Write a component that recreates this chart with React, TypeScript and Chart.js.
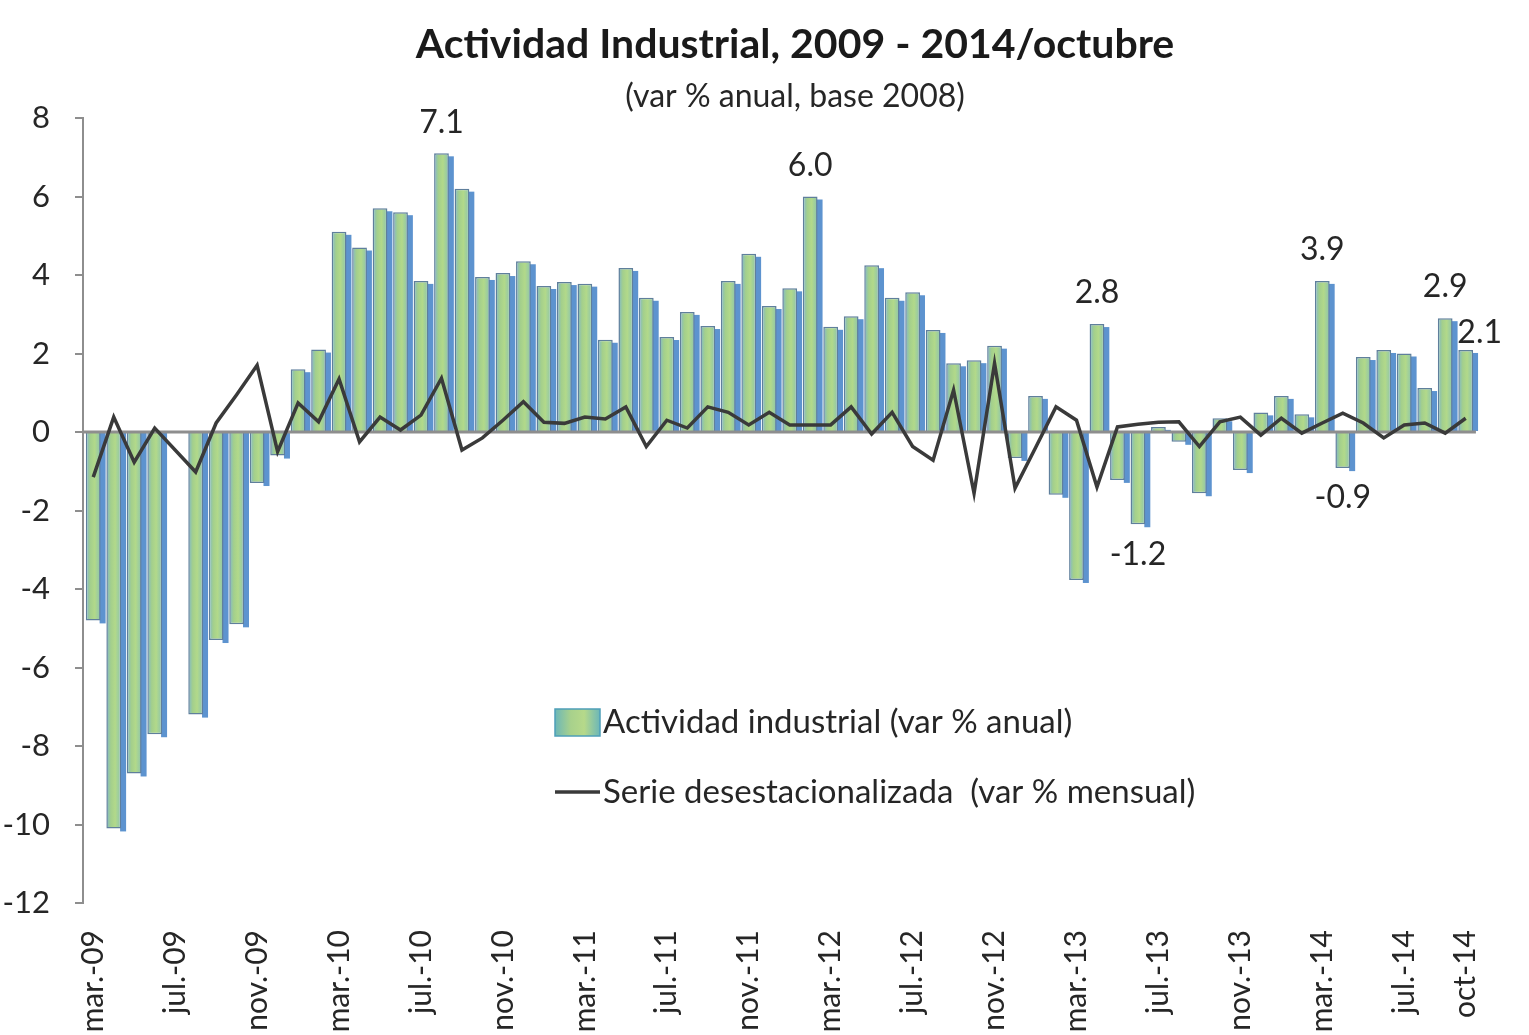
import React, { useEffect, useRef } from "react";
import { Chart, registerables } from "chart.js";

Chart.register(...registerables);

const months = [
  "mar.-09", "abr.-09", "may.-09", "jun.-09", "jul.-09", "ago.-09", "sep.-09", "oct.-09", "nov.-09", "dic.-09",
  "ene.-10", "feb.-10", "mar.-10", "abr.-10", "may.-10", "jun.-10", "jul.-10", "ago.-10", "sep.-10", "oct.-10", "nov.-10", "dic.-10",
  "ene.-11", "feb.-11", "mar.-11", "abr.-11", "may.-11", "jun.-11", "jul.-11", "ago.-11", "sep.-11", "oct.-11", "nov.-11", "dic.-11",
  "ene.-12", "feb.-12", "mar.-12", "abr.-12", "may.-12", "jun.-12", "jul.-12", "ago.-12", "sep.-12", "oct.-12", "nov.-12", "dic.-12",
  "ene.-13", "feb.-13", "mar.-13", "abr.-13", "may.-13", "jun.-13", "jul.-13", "ago.-13", "sep.-13", "oct.-13", "nov.-13", "dic.-13",
  "ene.-14", "feb.-14", "mar.-14", "abr.-14", "may.-14", "jun.-14", "jul.-14", "ago.-14", "sep.-14", "oct-14",
];

const annualVar: (number | null)[] = [
  -4.8, -10.1, -8.7, -7.7, null, -7.2, -5.3, -4.9, -1.3, -0.6,
  1.6, 2.1, 5.1, 4.7, 5.7, 5.6, 3.85, 7.1, 6.2, 3.95, 4.05, 4.35,
  3.72, 3.82, 3.78, 2.35, 4.18, 3.42, 2.42, 3.06, 2.7, 3.85, 4.54, 3.21,
  3.66, 6.0, 2.68, 2.95, 4.25, 3.42, 3.56, 2.6, 1.75, 1.83, 2.2, -0.66,
  0.92, -1.6, -3.77, 2.75, -1.22, -2.35, 0.13, -0.25, -1.56, 0.35, -0.97, 0.5,
  0.92, 0.45, 3.85, -0.92, 1.91, 2.09, 2.0, 1.12, 2.9, 2.09,
];

const monthlyVar: (number | null)[] = [
  -1.15, 0.38, -0.77, 0.1, null, -1.02, 0.23, 0.95, 1.7, -0.5,
  0.74, 0.26, 1.35, -0.25, 0.38, 0.05, 0.43, 1.37, -0.46, -0.15, 0.3, 0.77,
  0.25, 0.22, 0.38, 0.33, 0.64, -0.37, 0.3, 0.1, 0.64, 0.5, 0.18, 0.5,
  0.18, 0.18, 0.18, 0.64, -0.05, 0.5, -0.37, -0.72, 1.07, -1.56, 1.75, -1.43,
  -0.4, 0.64, 0.3, -1.4, 0.13, 0.2, 0.25, 0.26, -0.37, 0.26, 0.38, -0.08,
  0.35, -0.03, 0.23, 0.48, 0.23, -0.15, 0.18, 0.23, -0.03, 0.35,
];

const yTicks = [-12, -10, -8, -6, -4, -2, 0, 2, 4, 6, 8];

const barLabelIndex = [17, 35, 49, 51, 60, 61, 66, 67];
const barLabelText = ["7.1", "6.0", "2.8", "-1.2", "3.9", "-0.9", "2.9", "2.1"];

const titleText = "Actividad Industrial, 2009 - 2014/octubre";
const subtitleText = "(var % anual, base 2008)";
const seriesNames = ["Actividad industrial (var % anual)", "Serie desestacionalizada  (var % mensual)"];

const FONT = "Lato, 'Open Sans', sans-serif";

export default function App() {
  const canvasRef = useRef<HTMLCanvasElement | null>(null);

  useEffect(() => {
    const canvas = canvasRef.current;
    if (!canvas) return;

    const barFill = (ctx: any) => {
      const chart = ctx.chart;
      const meta = chart.getDatasetMeta(0);
      const el: any = meta && meta.data ? meta.data[ctx.dataIndex] : null;
      if (!el || !el.width || !isFinite(el.x)) return "#a9d18e";
      const g = chart.ctx.createLinearGradient(el.x - el.width / 2, 0, el.x + el.width / 2, 0);
      g.addColorStop(0, "#7fb8cc");
      g.addColorStop(0.3, "#a3cf8c");
      g.addColorStop(0.6, "#b2d98a");
      g.addColorStop(1, "#8cc4ae");
      return g;
    };

    const barLayerPlugin = {
      id: "barLayer",
      beforeDatasetDraw(chart: any, args: any) {
        if (args.index !== 0) return;
        const ctx = chart.ctx;
        const meta = chart.getDatasetMeta(0);
        ctx.save();
        ctx.fillStyle = "#5d93cf";
        meta.data.forEach((el: any, i: number) => {
          const v = annualVar[i];
          if (v === null || v === undefined || !el || !isFinite(el.y)) return;
          const left = el.x + el.width / 2 - 1;
          const w = 6;
          const top = Math.min(el.y, el.base) + (v >= 0 ? 3 : 0);
          const bottom = Math.max(el.y, el.base) + (v < 0 ? 3 : 0);
          ctx.fillRect(left, top, w, bottom - top);
        });
        ctx.restore();
      },
      afterDatasetDraw(chart: any, args: any) {
        if (args.index !== 0) return;
        const { ctx, chartArea, scales } = chart;
        const y = scales.y.getPixelForValue(0);
        ctx.save();
        ctx.strokeStyle = "#8e8e8e";
        ctx.lineWidth = 3;
        ctx.beginPath();
        ctx.moveTo(chartArea.left, y);
        ctx.lineTo(chartArea.right, y);
        ctx.stroke();
        ctx.restore();
      },
    };

    const textPlugin = {
      id: "texts",
      afterDraw(chart: any) {
        const { ctx } = chart;
        ctx.save();
        ctx.textAlign = "center";
        ctx.textBaseline = "middle";
        ctx.fillStyle = "#1a1a1a";
        ctx.font = `bold 41px ${FONT}`;
        ctx.fillText(titleText, 795, 45);
        ctx.fillStyle = "#262626";
        ctx.font = `32px ${FONT}`;
        ctx.fillText(subtitleText, 795, 97);

        const meta = chart.getDatasetMeta(0);
        ctx.font = `32px ${FONT}`;
        barLabelIndex.forEach((idx, k) => {
          const el: any = meta.data[idx];
          const v = annualVar[idx] as number;
          if (!el) return;
          let x = el.x;
          let y = v >= 0 ? el.y - 31 : el.y + 30;
          if (k === barLabelIndex.length - 1) {
            x += 14;
            y += 14;
          }
          ctx.fillText(barLabelText[k], x, y);
        });

        const bx = 555, by = 709, bw = 45, bh = 27;
        const g = ctx.createLinearGradient(bx, 0, bx + bw, 0);
        g.addColorStop(0, "#6cb7b8");
        g.addColorStop(0.35, "#a8d18c");
        g.addColorStop(0.65, "#b6d98a");
        g.addColorStop(1, "#6cb7b8");
        ctx.fillStyle = g;
        ctx.fillRect(bx, by, bw, bh);
        ctx.strokeStyle = "#4e9fb8";
        ctx.lineWidth = 1.5;
        ctx.strokeRect(bx, by, bw, bh);
        ctx.strokeStyle = "#3a3a3a";
        ctx.lineWidth = 3.5;
        ctx.beginPath();
        ctx.moveTo(555, 792);
        ctx.lineTo(600, 792);
        ctx.stroke();
        ctx.font = `33px ${FONT}`;
        ctx.fillStyle = "#262626";
        ctx.textAlign = "left";
        ctx.fillText(seriesNames[0], 603, 722);
        ctx.fillText(seriesNames[1], 603, 792);
        ctx.restore();
      },
    };

    const chart = new Chart(canvas, {
      type: "bar",
      data: {
        labels: months,
        datasets: [
          {
            type: "bar",
            label: seriesNames[0],
            data: annualVar,
            backgroundColor: barFill,
            borderColor: "#5f7f9c",
            borderWidth: 1.5,
            barPercentage: 0.72,
            categoryPercentage: 1,
            order: 1,
          },
          {
            type: "line",
            label: seriesNames[1],
            data: monthlyVar,
            borderColor: "#3a3a3a",
            borderWidth: 3.5,
            pointRadius: 0,
            tension: 0,
            spanGaps: true,
            order: 0,
          } as any,
        ],
      },
      options: {
        responsive: false,
        animation: false,
        layout: { padding: { left: 0, right: 43, top: 118, bottom: 0 } },
        plugins: {
          legend: { display: false },
          tooltip: { enabled: false },
          title: { display: false },
          subtitle: { display: false },
        },
        scales: {
          x: {
            grid: { display: false, drawTicks: false },
            border: { display: false },
            ticks: {
              autoSkip: false,
              maxRotation: 90,
              minRotation: 90,
              padding: 27,
              color: "#262626",
              font: { family: FONT, size: 30 },
              callback: (_v: any, i: number) =>
                i % 4 === 0 || i === months.length - 1 ? months[i] : "",
            },
            afterFit: (scale: any) => {
              scale.height = 132;
            },
          },
          y: {
            min: yTicks[0],
            max: yTicks[yTicks.length - 1],
            afterBuildTicks: (scale: any) => {
              scale.ticks = yTicks.map((v) => ({ value: v }));
            },
            grid: {
              drawOnChartArea: false,
              drawTicks: true,
              tickLength: 8,
              color: "#8e8e8e",
              lineWidth: 2,
            },
            border: { display: true, color: "#8e8e8e", width: 2 },
            ticks: {
              padding: 25,
              color: "#262626",
              font: { family: FONT, size: 31 },
            },
            afterFit: (scale: any) => {
              scale.width = 83;
            },
          },
        },
      },
      plugins: [barLayerPlugin, textPlugin],
    });
    chart.update();

    return () => {
      chart.destroy();
    };
  }, []);

  return (
    <canvas
      ref={canvasRef}
      width={1529}
      height={1035}
      style={{ position: "fixed", left: 0, top: 0, display: "block", background: "#ffffff" }}
    />
  );
}
